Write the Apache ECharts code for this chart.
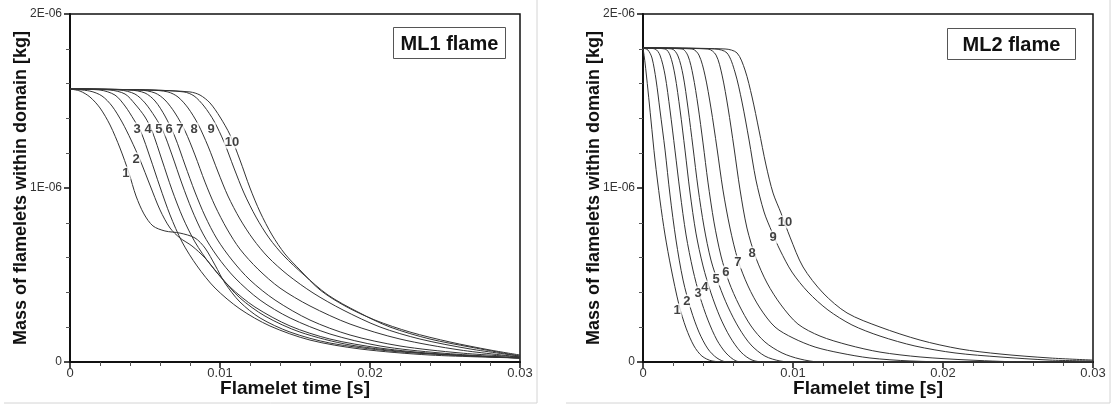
<!DOCTYPE html>
<html>
<head>
<meta charset="utf-8">
<script src="https://cdn.jsdelivr.net/npm/echarts@6/dist/echarts.min.js"></script>
<style>
  html, body { margin: 0; padding: 0; background: #fff; }
  #chart { width: 1119px; height: 408px; }
</style>
</head>
<body>
<div id="chart"></div>
<script>
// Flamelet mass remaining in the domain versus flamelet time, [time s, mass kg]
// ML1 flame, curves 1..10
const ml1_c1 = [[0,1.569e-6],[0.00067,1.557e-6],[0.00133,1.523e-6],[0.002,1.460e-6],[0.00267,1.362e-6],[0.00333,1.230e-6],[0.00393,1.086e-6],[0.0044,0.954e-6],[0.00493,0.851e-6],[0.00553,0.782e-6],[0.00633,0.753e-6],[0.00733,0.741e-6],[0.00833,0.713e-6],[0.009,0.655e-6],[0.00967,0.557e-6],[0.01033,0.454e-6],[0.01133,0.345e-6],[0.01267,0.253e-6],[0.01467,0.172e-6],[0.01733,0.109e-6],[0.02133,0.063e-6],[0.02533,0.040e-6],[0.03,0.023e-6]];
const ml1_c2 = [[0,1.569e-6],[0.00133,1.557e-6],[0.00213,1.529e-6],[0.0028,1.471e-6],[0.00347,1.379e-6],[0.00407,1.276e-6],[0.00467,1.161e-6],[0.00533,1.017e-6],[0.006,0.874e-6],[0.00667,0.770e-6],[0.00733,0.713e-6],[0.00813,0.667e-6],[0.009,0.598e-6],[0.01,0.494e-6],[0.01133,0.368e-6],[0.013,0.264e-6],[0.01533,0.172e-6],[0.01867,0.098e-6],[0.02333,0.052e-6],[0.03,0.023e-6]];
const ml1_c3 = [[0,1.569e-6],[0.002,1.563e-6],[0.003,1.534e-6],[0.00367,1.471e-6],[0.00427,1.391e-6],[0.00473,1.322e-6],[0.00533,1.178e-6],[0.006,1.006e-6],[0.00667,0.845e-6],[0.00747,0.690e-6],[0.00847,0.552e-6],[0.00967,0.425e-6],[0.01133,0.305e-6],[0.01333,0.207e-6],[0.016,0.126e-6],[0.01933,0.075e-6],[0.024,0.040e-6],[0.03,0.023e-6]];
const ml1_c4 = [[0,1.569e-6],[0.00267,1.563e-6],[0.00367,1.540e-6],[0.00433,1.483e-6],[0.005,1.408e-6],[0.00547,1.328e-6],[0.00613,1.161e-6],[0.0068,0.989e-6],[0.00753,0.828e-6],[0.00833,0.690e-6],[0.00933,0.563e-6],[0.01067,0.431e-6],[0.01233,0.316e-6],[0.01467,0.207e-6],[0.01733,0.132e-6],[0.02067,0.080e-6],[0.02467,0.046e-6],[0.03,0.023e-6]];
const ml1_c5 = [[0,1.569e-6],[0.00333,1.563e-6],[0.00433,1.540e-6],[0.005,1.489e-6],[0.00567,1.408e-6],[0.0062,1.328e-6],[0.0068,1.190e-6],[0.00747,1.023e-6],[0.00813,0.874e-6],[0.00887,0.736e-6],[0.0098,0.609e-6],[0.011,0.483e-6],[0.01267,0.356e-6],[0.01467,0.253e-6],[0.01733,0.161e-6],[0.02067,0.092e-6],[0.02467,0.052e-6],[0.03,0.023e-6]];
const ml1_c6 = [[0,1.569e-6],[0.004,1.563e-6],[0.005,1.546e-6],[0.00567,1.500e-6],[0.00633,1.414e-6],[0.007,1.293e-6],[0.00767,1.132e-6],[0.00833,0.977e-6],[0.009,0.839e-6],[0.0098,0.707e-6],[0.0108,0.586e-6],[0.012,0.471e-6],[0.01367,0.356e-6],[0.016,0.241e-6],[0.01867,0.155e-6],[0.022,0.092e-6],[0.026,0.052e-6],[0.03,0.029e-6]];
const ml1_c7 = [[0,1.569e-6],[0.00467,1.563e-6],[0.00567,1.546e-6],[0.00633,1.506e-6],[0.007,1.431e-6],[0.00767,1.328e-6],[0.00833,1.190e-6],[0.009,1.034e-6],[0.00967,0.897e-6],[0.01047,0.764e-6],[0.01133,0.649e-6],[0.01253,0.534e-6],[0.014,0.425e-6],[0.016,0.322e-6],[0.01867,0.218e-6],[0.022,0.132e-6],[0.026,0.069e-6],[0.03,0.029e-6]];
const ml1_c8 = [[0,1.569e-6],[0.00533,1.563e-6],[0.00653,1.552e-6],[0.0072,1.523e-6],[0.00787,1.460e-6],[0.00853,1.368e-6],[0.0092,1.241e-6],[0.00987,1.092e-6],[0.01053,0.954e-6],[0.01133,0.822e-6],[0.0122,0.707e-6],[0.0132,0.603e-6],[0.01453,0.500e-6],[0.0162,0.397e-6],[0.0182,0.299e-6],[0.02067,0.201e-6],[0.02333,0.132e-6],[0.02667,0.075e-6],[0.03,0.034e-6]];
const ml1_c9 = [[0,1.569e-6],[0.00533,1.563e-6],[0.0076,1.552e-6],[0.00827,1.529e-6],[0.00893,1.471e-6],[0.0096,1.385e-6],[0.01027,1.264e-6],[0.01093,1.115e-6],[0.0116,0.971e-6],[0.0124,0.833e-6],[0.01327,0.713e-6],[0.01427,0.609e-6],[0.01553,0.506e-6],[0.0172,0.385e-6],[0.0192,0.287e-6],[0.02133,0.201e-6],[0.024,0.132e-6],[0.02667,0.086e-6],[0.03,0.034e-6]];
const ml1_c10 = [[0,1.569e-6],[0.00533,1.563e-6],[0.008,1.552e-6],[0.00867,1.534e-6],[0.00933,1.489e-6],[0.01,1.408e-6],[0.01067,1.305e-6],[0.01133,1.161e-6],[0.012,1.0e-6],[0.01267,0.862e-6],[0.01347,0.730e-6],[0.01433,0.621e-6],[0.01533,0.529e-6],[0.01667,0.414e-6],[0.01833,0.322e-6],[0.02033,0.241e-6],[0.02267,0.172e-6],[0.02533,0.115e-6],[0.028,0.069e-6],[0.03,0.040e-6]];

// ML2 flame, curves 1..10
const ml2_c1 = [[0,1.805e-6],[0.00013,1.724e-6],[0.00033,1.563e-6],[0.00053,1.391e-6],[0.0008,1.161e-6],[0.00113,0.931e-6],[0.00147,0.730e-6],[0.00187,0.540e-6],[0.0024,0.328e-6],[0.00287,0.195e-6],[0.0034,0.092e-6],[0.00393,0.034e-6],[0.0046,0.006e-6],[0.0058,0],[0.03,0]];
const ml2_c2 = [[0,1.805e-6],[0.00033,1.793e-6],[0.0006,1.747e-6],[0.00087,1.621e-6],[0.00113,1.448e-6],[0.00147,1.218e-6],[0.0018,0.960e-6],[0.0022,0.701e-6],[0.00267,0.471e-6],[0.0032,0.299e-6],[0.00373,0.172e-6],[0.00433,0.075e-6],[0.00493,0.023e-6],[0.0056,0],[0.03,0]];
const ml2_c3 = [[0,1.805e-6],[0.0008,1.799e-6],[0.00113,1.764e-6],[0.00147,1.649e-6],[0.0018,1.448e-6],[0.00213,1.218e-6],[0.00247,0.977e-6],[0.00287,0.730e-6],[0.00333,0.529e-6],[0.0038,0.374e-6],[0.00433,0.241e-6],[0.00493,0.126e-6],[0.00553,0.052e-6],[0.0062,0.006e-6],[0.0068,0],[0.03,0]];
const ml2_c4 = [[0,1.805e-6],[0.00147,1.799e-6],[0.0018,1.764e-6],[0.00213,1.649e-6],[0.00247,1.448e-6],[0.0028,1.218e-6],[0.00313,0.977e-6],[0.00353,0.741e-6],[0.004,0.552e-6],[0.00453,0.397e-6],[0.00513,0.259e-6],[0.0058,0.144e-6],[0.00653,0.057e-6],[0.00727,0.011e-6],[0.00813,0],[0.03,0]];
const ml2_c5 = [[0,1.805e-6],[0.00193,1.799e-6],[0.00233,1.759e-6],[0.00267,1.649e-6],[0.003,1.460e-6],[0.00333,1.236e-6],[0.00367,1.0e-6],[0.00407,0.776e-6],[0.00453,0.586e-6],[0.00507,0.443e-6],[0.00567,0.316e-6],[0.0064,0.195e-6],[0.0072,0.098e-6],[0.00813,0.034e-6],[0.00913,0.006e-6],[0.01013,0],[0.03,0]];
const ml2_c6 = [[0,1.805e-6],[0.0026,1.799e-6],[0.003,1.759e-6],[0.00333,1.649e-6],[0.00367,1.471e-6],[0.004,1.259e-6],[0.00433,1.034e-6],[0.00473,0.805e-6],[0.0052,0.609e-6],[0.00573,0.460e-6],[0.0064,0.328e-6],[0.0072,0.207e-6],[0.00813,0.115e-6],[0.00927,0.052e-6],[0.01047,0.017e-6],[0.0118,0],[0.03,0]];
const ml2_c7 = [[0,1.805e-6],[0.00327,1.799e-6],[0.00373,1.764e-6],[0.00413,1.649e-6],[0.00453,1.460e-6],[0.00493,1.230e-6],[0.00533,0.989e-6],[0.0058,0.770e-6],[0.00633,0.586e-6],[0.007,0.437e-6],[0.0078,0.310e-6],[0.0088,0.201e-6],[0.01,0.138e-6],[0.01147,0.086e-6],[0.01313,0.052e-6],[0.01513,0.023e-6],[0.0178,0.006e-6],[0.02113,0],[0.03,0]];
const ml2_c8 = [[0,1.805e-6],[0.00433,1.799e-6],[0.00487,1.764e-6],[0.00527,1.649e-6],[0.00567,1.460e-6],[0.00607,1.230e-6],[0.00647,0.989e-6],[0.00693,0.770e-6],[0.00753,0.598e-6],[0.00827,0.454e-6],[0.0092,0.328e-6],[0.01033,0.218e-6],[0.0118,0.149e-6],[0.01367,0.098e-6],[0.0158,0.057e-6],[0.01847,0.029e-6],[0.0218,0.011e-6],[0.0258,0],[0.03,0]];
const ml2_c9 = [[0,1.805e-6],[0.0048,1.799e-6],[0.0056,1.776e-6],[0.00613,1.667e-6],[0.0066,1.494e-6],[0.00707,1.276e-6],[0.00753,1.046e-6],[0.00807,0.862e-6],[0.0086,0.747e-6],[0.00913,0.644e-6],[0.00993,0.517e-6],[0.011,0.402e-6],[0.01233,0.299e-6],[0.01393,0.213e-6],[0.0158,0.149e-6],[0.01813,0.092e-6],[0.0208,0.052e-6],[0.0238,0.029e-6],[0.02713,0.011e-6],[0.03,0.006e-6]];
const ml2_c10 = [[0,1.805e-6],[0.00547,1.799e-6],[0.00627,1.776e-6],[0.0068,1.678e-6],[0.00727,1.523e-6],[0.00773,1.333e-6],[0.0082,1.132e-6],[0.00867,0.971e-6],[0.0092,0.856e-6],[0.0098,0.718e-6],[0.01067,0.546e-6],[0.012,0.397e-6],[0.0136,0.282e-6],[0.0158,0.201e-6],[0.01847,0.126e-6],[0.02113,0.075e-6],[0.0238,0.046e-6],[0.02713,0.023e-6],[0.03,0.011e-6]];

// Curve numbering and where each number is written, [time s, mass kg]
const curveNames = ['1','2','3','4','5','6','7','8','9','10'];
const ml1LabelPos = [[0.00373,1.086e-6],[0.0044,1.167e-6],[0.00447,1.339e-6],[0.0052,1.339e-6],[0.00593,1.339e-6],[0.0066,1.339e-6],[0.00733,1.339e-6],[0.00827,1.339e-6],[0.0094,1.339e-6],[0.0108,1.264e-6]];
const ml2LabelPos = [[0.00227,0.299e-6],[0.00293,0.351e-6],[0.00367,0.397e-6],[0.00413,0.431e-6],[0.00487,0.477e-6],[0.00553,0.517e-6],[0.00633,0.575e-6],[0.00727,0.626e-6],[0.00867,0.718e-6],[0.00947,0.805e-6]];

// Axis settings and titles
const xTicks = { min: 0, max: 0.03, interval: 0.01 };
const yTicks = { min: 0, max: 2e-6, interval: 1e-6 };
const xTitle = 'Flamelet time [s]';
const yTitle = 'Mass of flamelets within domain [kg]';
const panelTitles = ['ML1 flame', 'ML2 flame'];

const ml1Curves = [ml1_c1, ml1_c2, ml1_c3, ml1_c4, ml1_c5, ml1_c6, ml1_c7, ml1_c8, ml1_c9, ml1_c10];
const ml2Curves = [ml2_c1, ml2_c2, ml2_c3, ml2_c4, ml2_c5, ml2_c6, ml2_c7, ml2_c8, ml2_c9, ml2_c10];

const FONT = '"Liberation Sans", Arial, Helvetica, sans-serif';

function fmtX(v) {
  if (Math.abs(v) < 1e-12) return '0';
  return v.toFixed(2);
}
function fmtY(v) {
  if (Math.abs(v) < 1e-15) return '0';
  return Math.round(v * 1e6) + 'E-06';
}

const grids = [
  { left: 70, top: 14, width: 450, height: 348 },
  { left: 643, top: 14, width: 450, height: 348 }
].map(g => Object.assign(g, { show: true, borderColor: '#111', borderWidth: 1.5, backgroundColor: 'transparent' }));

function xAxis(i) {
  return {
    type: 'value', gridIndex: i, min: xTicks.min, max: xTicks.max, interval: xTicks.interval,
    name: xTitle, nameLocation: 'middle', nameGap: 17, nameMoveOverlap: false,
    nameTextStyle: { fontFamily: FONT, fontWeight: 'bold', fontSize: 19, color: '#111', verticalAlign: 'top' },
    axisLine: { onZero: false, lineStyle: { color: '#111', width: 2 } },
    axisTick: { show: true, inside: false, length: 6, lineStyle: { color: '#111', width: 1.5 } },
    minorTick: { show: true, splitNumber: 5, length: 4, lineStyle: { color: '#555', width: 1 } },
    axisLabel: { formatter: fmtX, fontFamily: FONT, fontSize: 13, color: '#333', margin: 5, showMaxLabel: true, showMinLabel: true },
    splitLine: { show: false }
  };
}
function yAxis(i) {
  return {
    type: 'value', gridIndex: i, min: yTicks.min, max: yTicks.max, interval: yTicks.interval,
    name: yTitle, nameLocation: 'middle', nameGap: 49, nameRotate: 90, nameMoveOverlap: false,
    nameTextStyle: { fontFamily: FONT, fontWeight: 'bold', fontSize: 18, color: '#111', verticalAlign: 'middle' },
    axisLine: { onZero: false, lineStyle: { color: '#111', width: 2 } },
    axisTick: { show: true, inside: false, length: 6, lineStyle: { color: '#111', width: 1.5 } },
    minorTick: { show: true, splitNumber: 5, length: 4, lineStyle: { color: '#555', width: 1 } },
    axisLabel: { formatter: fmtY, fontFamily: FONT, fontSize: 12, color: '#333', margin: 8 },
    splitLine: { show: false }
  };
}

function curveSeries(curves, gi) {
  return curves.map((d, k) => ({
    type: 'line', name: panelTitles[gi] + ' ' + curveNames[k],
    xAxisIndex: gi, yAxisIndex: gi, data: d,
    smooth: 0.3, symbol: 'none', silent: true,
    lineStyle: { color: '#333', width: 1 }, z: 2
  }));
}
function labelSeries(pos, gi) {
  return {
    type: 'scatter', xAxisIndex: gi, yAxisIndex: gi, symbolSize: 0, silent: true, z: 5,
    data: pos.map((p, k) => ({ value: p, name: curveNames[k] })),
    label: {
      show: true, position: 'inside', formatter: p => p.name,
      fontFamily: FONT, fontWeight: 'bold', fontSize: 13, color: '#111',
      backgroundColor: '#fff', padding: [0, 1]
    }
  };
}

function titleBox(x, y, w, h, text) {
  return {
    type: 'group', left: x, top: y,
    children: [
      { type: 'rect', shape: { x: 0, y: 0, width: w, height: h }, style: { fill: '#fff', stroke: '#555', lineWidth: 1 } },
      { type: 'text', x: w / 2, y: h / 2 + 1, style: { text: text, fill: '#111', font: 'bold 20px ' + FONT, textAlign: 'center', textVerticalAlign: 'middle' } }
    ]
  };
}

const chart = echarts.init(document.getElementById('chart'), null, { renderer: 'canvas' });
chart.setOption({
  animation: false,
  backgroundColor: '#fff',
  grid: grids,
  xAxis: [xAxis(0), xAxis(1)],
  yAxis: [yAxis(0), yAxis(1)],
  series: [].concat(
    curveSeries(ml1Curves, 0), [labelSeries(ml1LabelPos, 0)],
    curveSeries(ml2Curves, 1), [labelSeries(ml2LabelPos, 1)]
  ),
  graphic: [
    titleBox(393, 27, 112, 31, panelTitles[0]),
    titleBox(947, 28, 128, 31, panelTitles[1]),
    // light frames of the two figure panels
    { type: 'polyline', shape: { points: [[537, 0], [537, 403], [4, 403]] }, style: { stroke: '#d4d4d4', lineWidth: 1, fill: null }, silent: true },
    { type: 'polyline', shape: { points: [[1110, 0], [1110, 403], [566, 403]] }, style: { stroke: '#d4d4d4', lineWidth: 1, fill: null }, silent: true }
  ]
});
</script>
</body>
</html>
